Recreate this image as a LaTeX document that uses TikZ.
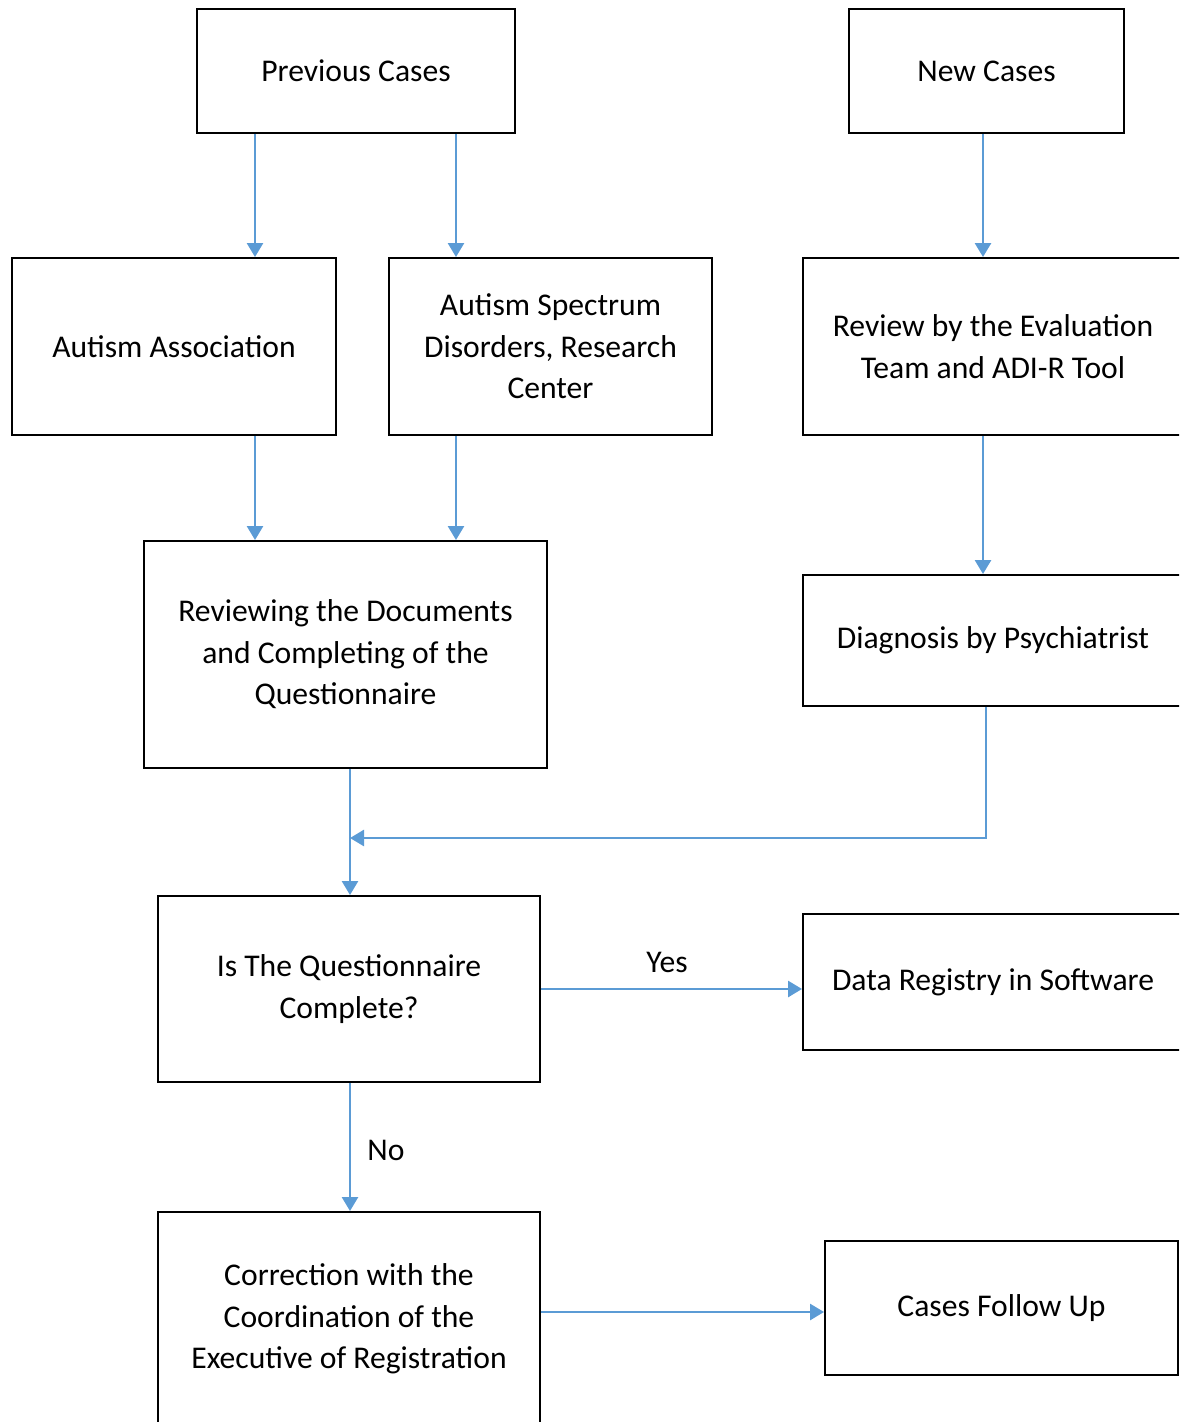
\documentclass[tikz,border=0pt]{standalone}
\usepackage{fontspec}
\setmainfont{Carlito}
\usepackage{tikz}
\usetikzlibrary{positioning,calc}
\usetikzlibrary{arrows.meta}
\definecolor{FlowBlue}{RGB}{91,155,213}
\tikzset{
	box/.style={draw=black,line width=1.1pt,fill=white,align=center,inner sep=0pt,
		font=\fontsize{18}{23.6}\selectfont},
	flow/.style={draw=FlowBlue,line width=1.5pt,-{Triangle[length=2.8mm,width=3.2mm]}},
	lbl/.style={font=\fontsize{18}{23.6}\selectfont},
}

\begin{document}
\begin{tikzpicture}[x=0.02cm,y=-0.02cm]
	\useasboundingbox (0,0) rectangle (1179,1422);
	\clip (0,0) rectangle (1179,1422);
	% columns of the connectors
	\coordinate (xa) at (255,0);
	\coordinate (xb) at (456,0);
	\coordinate (xc) at (983,0);
	\coordinate (xd) at (350,0);
	\coordinate (xe) at (986,0);
	\coordinate (join) at (350,838);
	% boxes
	\node[box,minimum width=318*0.02cm,minimum height=124*0.02cm] (prev) at (356,71) {Previous Cases};
	\node[box,minimum width=275*0.02cm,minimum height=124*0.02cm] (newc) at (986.5,71) {New Cases};
	\node[box,minimum width=324*0.02cm,minimum height=177*0.02cm] (assoc) at (174,346.5) {Autism Association};
	\node[box,minimum width=323*0.02cm,minimum height=177*0.02cm] (asd) at (550.5,346.5) {Autism Spectrum\\Disorders, Research\\Center};
	\node[box,minimum width=380*0.02cm,minimum height=177*0.02cm] (review) at (993,346.5) {Review by the Evaluation\\Team and ADI-R Tool};
	\node[box,minimum width=403*0.02cm,minimum height=227*0.02cm] (docs) at (345.5,654.5) {Reviewing the Documents\\and Completing of the\\Questionnaire};
	\node[box,minimum width=380*0.02cm,minimum height=131*0.02cm] (diag) at (993,640.5) {Diagnosis by Psychiatrist};
	\node[box,minimum width=382*0.02cm,minimum height=186*0.02cm] (check) at (349,989) {Is The Questionnaire\\Complete?};
	\node[box,minimum width=380*0.02cm,minimum height=136*0.02cm] (registry) at (993,982) {Data Registry in Software};
	\node[box,minimum width=382*0.02cm,minimum height=214*0.02cm] (correct) at (349,1319) {Correction with the\\Coordination of the\\Executive of Registration};
	\node[box,minimum width=353*0.02cm,minimum height=134*0.02cm] (follow) at (1001.5,1308) {Cases Follow Up};
	% connectors
	\foreach \s/\t/\c in {prev/assoc/xa,prev/asd/xb,newc/review/xc,assoc/docs/xa,asd/docs/xb,review/diag/xc,docs/check/xd,check/correct/xd}
	\draw[flow] (\s.south -| \c) -- (\t.north -| \c);
	\draw[flow] (diag.south -| xe) |- (join);
	\draw[flow] (check.east) -- (check.east -| registry.west);
	\draw[flow] ([yshift=7*0.02cm]correct.east) -- ([yshift=7*0.02cm]correct.east -| follow.west);
	\node[lbl] (yes) at (667,962) {Yes};
	\node[lbl] (no) at (386,1150) {No};
\end{tikzpicture}
\end{document}
